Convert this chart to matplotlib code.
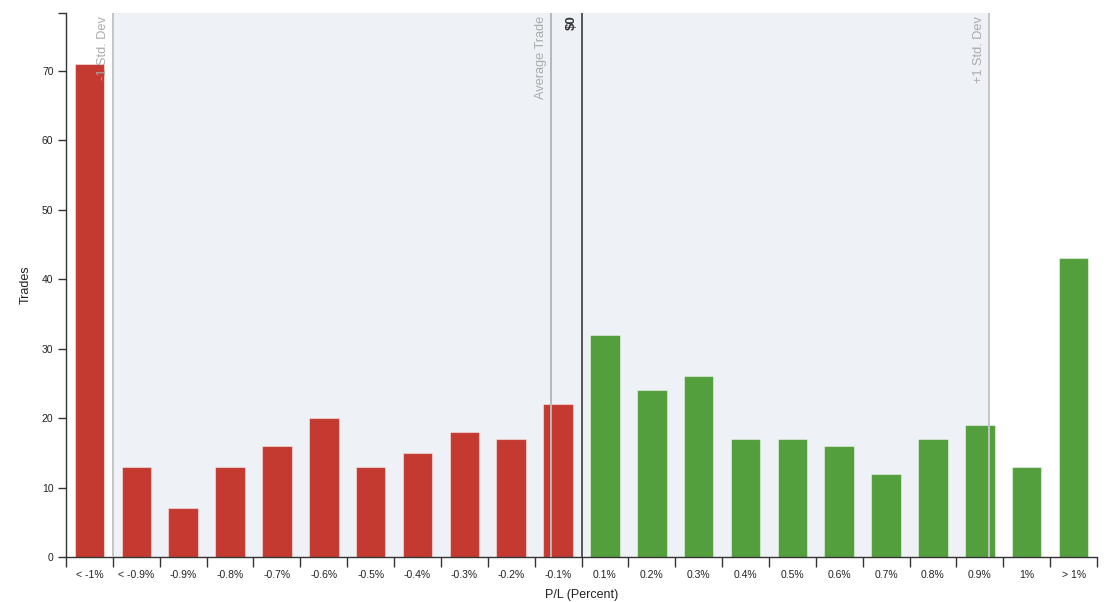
import matplotlib
matplotlib.use("Agg")
import matplotlib.pyplot as plt
import numpy as np

categories = ["< -1%", "< -0.9%", "-0.9%", "-0.8%", "-0.7%", "-0.6%", "-0.5%", "-0.4%",
              "-0.3%", "-0.2%", "-0.1%", "0.1%", "0.2%", "0.3%", "0.4%", "0.5%",
              "0.6%", "0.7%", "0.8%", "0.9%", "1%", "> 1%"]
trades = [71, 13, 7, 13, 16, 20, 13, 15, 18, 17, 22,
          32, 24, 26, 17, 17, 16, 12, 17, 19, 13, 43]
is_loss = [True] * 11 + [False] * 11
y_ticks = [0, 10, 20, 30, 40, 50, 60, 70]

# reference line positions on the band scale
minus_std_pos = 1.0
avg_trade_pos = 10.35
zero_pos = 11.0
plus_std_pos = 19.69

RED = "#c43a31"
GREEN = "#539e3d"

plt.rcParams['font.family'] = ['Liberation Sans', 'DejaVu Sans']

fig = plt.figure(figsize=(11.14, 6.02), dpi=100)
ax = fig.add_axes([66 / 1114, 45 / 602, (1097 - 66) / 1114, (557 - 13) / 602])

n = len(categories)
ymax = 78.35
ax.set_xlim(0, n)
ax.set_ylim(0, ymax)

# shaded std-dev band
ax.axvspan(minus_std_pos, plus_std_pos, color="#eef1f6", zorder=0, lw=0)

x = np.arange(n) + 0.5
colors = [RED if l else GREEN for l in is_loss]
ax.bar(x, trades, width=0.63, color=colors, edgecolor=(1, 1, 1, 0.45),
       linewidth=0.8, zorder=2)

# reference lines
for pos, c, lw in [(minus_std_pos, "#c4c4c4", 1.4), (avg_trade_pos, "#b8b8b8", 1.4),
                   (plus_std_pos, "#c4c4c4", 1.4), (zero_pos, "#555555", 1.4)]:
    ax.axvline(pos, color=c, lw=lw, zorder=3)

label_kw = dict(rotation=90, ha="right", va="top", fontsize=9.2, color="#aaaaaa",
                transform=ax.get_xaxis_transform(), zorder=4)
ax.text(minus_std_pos - 0.08, 0.995, "-1 Std. Dev", **label_kw)
ax.text(avg_trade_pos - 0.08, 0.995, "Average Trade", **label_kw)
ax.text(plus_std_pos - 0.08, 0.995, "+1 Std. Dev", **label_kw)
ax.text(zero_pos - 0.08, 0.995, "$0", rotation=90, ha="right", va="top", fontsize=9.5,
        color="#333333", fontweight="bold", transform=ax.get_xaxis_transform(), zorder=4)

# axes styling
for s in ["top", "right"]:
    ax.spines[s].set_visible(False)
for s in ["left", "bottom"]:
    ax.spines[s].set_color("#333333")
    ax.spines[s].set_linewidth(1.0)

ax.set_yticks(y_ticks + [ymax])
ax.set_yticklabels([str(v) for v in y_ticks] + [""])
ax.tick_params(axis="y", length=6, width=1, color="#333333", labelsize=7.5,
               labelcolor="#222222", pad=3)

ax.set_xticks(np.arange(n + 1))
ax.set_xticklabels([""] * (n + 1))
ax.set_xticks(x, minor=True)
ax.set_xticklabels(categories, minor=True)
ax.tick_params(axis="x", which="major", length=7, width=1, color="#333333")
ax.tick_params(axis="x", which="minor", length=0, labelsize=7.5, labelcolor="#222222", pad=9)

ax.set_ylabel("Trades", fontsize=9, color="#222222", labelpad=7)
ax.set_xlabel("P/L (Percent)", fontsize=9, color="#222222", labelpad=7)

fig.savefig("out.png", dpi=100)
